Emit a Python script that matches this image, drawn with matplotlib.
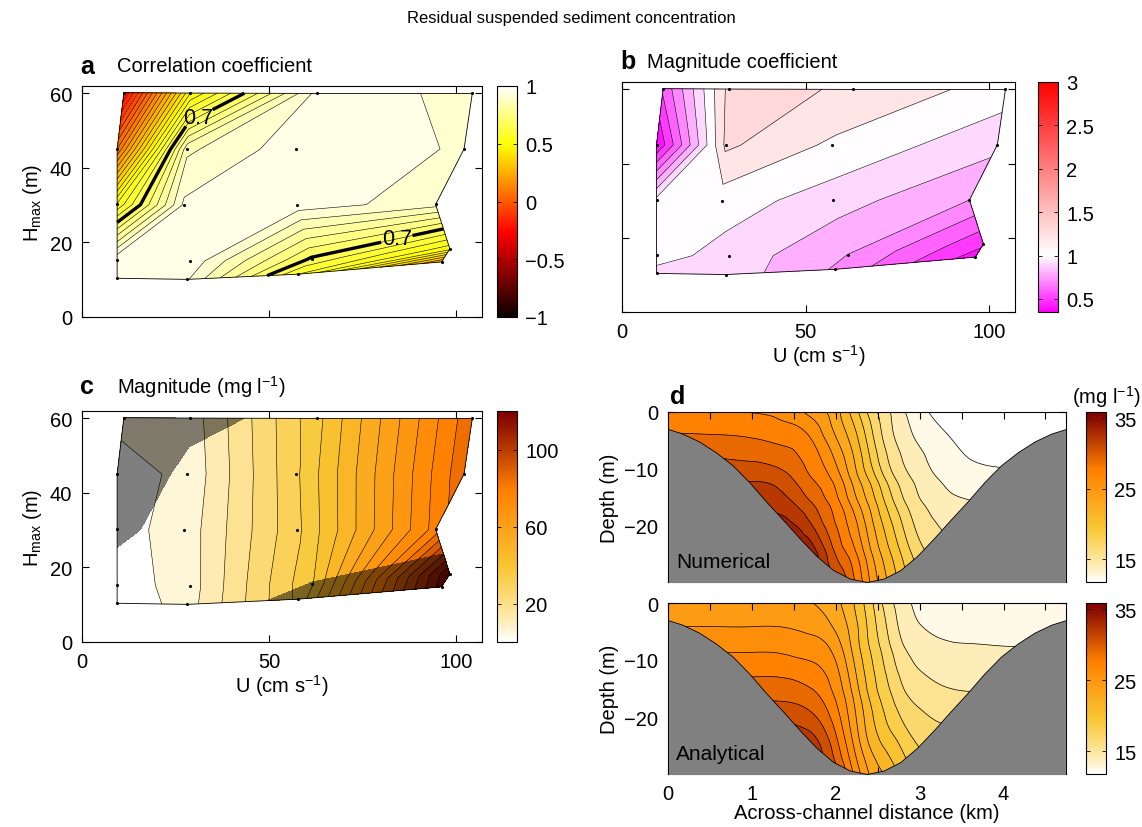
import numpy as np
import matplotlib
matplotlib.use('Agg')
import matplotlib.pyplot as plt
import matplotlib.tri as mtri
from matplotlib.colors import LinearSegmentedColormap, Normalize
from matplotlib.cm import ScalarMappable

plt.rcParams['font.family'] = ['Liberation Sans', 'DejaVu Sans']
plt.rcParams['mathtext.fontset'] = 'custom'
plt.rcParams['mathtext.rm'] = 'Liberation Sans'
plt.rcParams['mathtext.it'] = 'Liberation Sans:italic'

# ---- data: model runs (rows = depth class, cols = velocity class) ----
U_pts = np.array([[9.4, 28.2, 57.9, 96.2],
                  [9.4, 29.0, 61.4, 98.4],
                  [9.4, 27.2, 57.5, 94.6],
                  [9.4, 28.2, 57.3, 102.2],
                  [11.2, 29.0, 62.9, 104.4]])
H_pts = np.array([[10.4, 10.1, 11.5, 14.8],
                  [15.4, 15.0, 15.5, 18.3],
                  [30.2, 30.0, 30.1, 30.2],
                  [45.1, 45.0, 45.0, 45.1],
                  [60.2, 60.1, 60.0, 60.0]])
corr = np.array([[0.98, 0.955, 0.60, 0.25],
                 [0.99, 0.985, 0.69, 0.52],
                 [0.56, 0.96, 0.98, 0.92],
                 [0.10, 0.89, 0.98, 0.945],
                 [-0.20, 0.50, 0.97, 0.94]])
mag_coef = np.array([[0.97, 0.96, 0.79, 0.45],
                     [1.04, 0.96, 0.80, 0.52],
                     [1.03, 1.05, 0.95, 0.80],
                     [0.40, 1.22, 1.08, 0.93],
                     [0.62, 1.23, 1.19, 1.05]])
magnitude = np.array([[0.4, 9.2, 37.5, 117.0],
                      [2.4, 9.3, 41.0, 119.5],
                      [4.2, 8.0, 34.5, 80.3],
                      [3.8, 7.25, 34.9, 88.4],
                      [7.5, 8.76, 40.2, 88.5]])

# ---- data: channel cross-section ----
dist_km = [0, 0.6, 1.0, 1.4, 1.7, 2.0, 2.2, 2.4, 2.6, 2.8, 3.0, 3.3, 3.6, 4.0, 4.4, 4.75]
depth_m = [0, -4, -8, -12, -16, -20, -25, -30]
numerical = np.array([
    [27.8, 27.7, 27.45, 27.1, 25.5, 23.6, 21.0, 18.1, 16.0, 14.2, 13.0, 11.8, 11.3, 11.2, 11.2, 11.2],
    [29.1, 29.0, 28.8, 28.3, 27.3, 24.4, 22.2, 19.2, 16.4, 14.7, 13.6, 12.6, 11.8, 11.4, 11.3, 11.3],
    [30.45, 30.45, 30.2, 29.6, 28.3, 25.7, 23.2, 20.1, 17.2, 15.4, 14.3, 13.2, 12.45, 12.1, 11.8, 11.7],
    [31.95, 31.9, 31.9, 31.1, 29.2, 27.0, 24.2, 21.4, 18.45, 16.3, 15.0, 13.8, 13.3, 13.0, 12.7, 12.45],
    [33.1, 33.1, 33.1, 32.5, 30.6, 28.1, 25.5, 22.7, 19.8, 17.3, 15.7, 14.5, 14.1, 13.8, 13.5, 13.3],
    [34.0, 34.0, 34.0, 34.0, 32.2, 29.05, 26.8, 23.8, 21.0, 18.45, 16.5, 15.3, 14.8, 14.5, 14.2, 14.05],
    [34.4, 34.4, 34.4, 34.4, 34.3, 30.4, 28.2, 25.0, 22.2, 19.7, 17.6, 16.2, 15.45, 15.2, 15.0, 14.8],
    [34.6, 34.6, 34.6, 34.6, 34.6, 32.5, 29.5, 26.1, 23.2, 20.8, 18.55, 17.05, 16.0, 15.8, 15.6, 15.4]])
analytical = np.array([
    [24.8, 24.8, 24.8, 24.7, 24.55, 23.4, 21.7, 19.1, 16.4, 14.6, 13.6, 13.2, 13.0, 12.9, 12.9, 12.9],
    [25.95, 25.95, 25.95, 25.9, 25.5, 24.2, 22.3, 19.6, 17.05, 15.0, 14.05, 13.6, 13.4, 13.3, 13.3, 13.3],
    [27.3, 27.3, 27.3, 27.2, 26.8, 25.4, 22.8, 20.05, 17.7, 15.7, 14.8, 14.3, 14.2, 14.1, 14.1, 14.1],
    [28.7, 28.65, 28.65, 28.6, 28.1, 26.4, 23.6, 20.7, 18.4, 16.5, 15.55, 15.0, 14.9, 14.9, 14.9, 14.9],
    [30.1, 30.1, 30.1, 30.0, 29.4, 27.2, 24.45, 21.3, 19.1, 17.3, 16.4, 15.8, 15.6, 15.6, 15.6, 15.6],
    [31.6, 31.6, 31.6, 31.6, 30.9, 28.2, 25.2, 22.1, 19.9, 18.3, 17.3, 16.7, 16.4, 16.3, 16.3, 16.3],
    [33.2, 33.2, 33.2, 33.0, 32.8, 29.6, 26.2, 23.0, 21.2, 19.7, 18.4, 17.8, 17.3, 17.2, 17.2, 17.2],
    [33.4, 33.4, 33.4, 33.4, 33.4, 31.5, 27.7, 24.45, 22.8, 21.0, 19.5, 19.0, 18.0, 18.0, 18.0, 18.0]])
bed_x = [0.0, 0.17, 0.37, 0.57, 0.77, 0.97, 1.17, 1.37, 1.57, 1.77, 1.97, 2.17, 2.37,
         2.57, 2.77, 2.97, 3.17, 3.37, 3.57, 3.77, 3.97, 4.17, 4.37, 4.57, 4.745]
bed_z = [-3.0, -3.8, -5.2, -7.1, -9.4, -12.4, -15.8, -19.0, -22.3, -25.4, -27.9, -29.4, -30.0,
         -29.4, -27.9, -25.4, -22.3, -19.0, -15.8, -12.4, -9.4, -7.1, -5.2, -3.8, -3.0]

# ---- colour maps ----
hot = plt.get_cmap('hot')
norm_a = Normalize(-1, 1)
b_lo, b_hi = 0.35, 3.0
mag_cmap = LinearSegmentedColormap.from_list(
    'magcoef', [(0, (1, 0, 1)), ((1 - b_lo) / (b_hi - b_lo), (1, 1, 1)), (1, (1, 0, 0))])
norm_b = Normalize(b_lo, b_hi)
conc_cmap = LinearSegmentedColormap.from_list(
    'conc', [(0, (1, 1, 1)), (0.06, (1, 0.95, 0.8)), (0.16, (0.99, 0.88, 0.55)),
             (0.32, (0.97, 0.78, 0.2)), (0.66, (1, 0.5, 0)), (0.95, (0.55, 0.06, 0)),
             (1, (0.5, 0, 0))])
norm_c = Normalize(0, 120)
norm_d = Normalize(11.8, 35.85)

W, H = 1142, 828
fig = plt.figure(figsize=(W / 100, H / 100), dpi=100)


def px_axes(l, t, r, b):
    return fig.add_axes([l / W, 1 - b / H, (r - l) / W, (b - t) / H])


def style(ax):
    ax.tick_params(which='both', direction='in', top=True, right=True,
                   length=5, width=0.8, labelsize=14.5, pad=7)
    for s in ax.spines.values():
        s.set_linewidth(0.8)


def add_cbar(box, cmap, norm, ticks, labels):
    cax = px_axes(*box)
    cb = fig.colorbar(ScalarMappable(norm=norm, cmap=cmap), cax=cax, ticks=ticks)
    cb.set_ticklabels(labels)
    cb.outline.set_linewidth(0.8)
    cax.tick_params(direction='in', length=3, width=0.6, labelsize=14.5,
                    left=True, right=True, pad=6)
    return cb


def grid_panel(ax, Z, cmap, norm, levels, band_vals=None):
    if band_vals is None:
        band_vals = levels[:-1]
    cols = cmap(norm(np.clip(band_vals, norm.vmin, norm.vmax)))
    ax.contourf(U_pts, H_pts, Z, levels=levels, colors=cols)
    ax.contour(U_pts, H_pts, Z, levels=levels, colors='k', linewidths=0.4)
    bx = np.concatenate([U_pts[0, :], U_pts[1:, -1], U_pts[-1, -2::-1], U_pts[-2::-1, 0]])
    by = np.concatenate([H_pts[0, :], H_pts[1:, -1], H_pts[-1, -2::-1], H_pts[-2::-1, 0]])
    ax.plot(bx, by, color='k', lw=0.6)
    ax.plot(U_pts.ravel(), H_pts.ravel(), 'k.', ms=2.5)
    ax.set_xlim(0, 107)
    ax.set_ylim(0, 62)
    ax.set_xticks([0, 50, 100])
    ax.set_yticks([0, 20, 40, 60])
    style(ax)


# ---- a: correlation coefficient ----
ax_a = px_axes(82, 87, 482, 318)
lev_a = np.round(np.arange(-1, 1.0001, 0.05), 2)
grid_panel(ax_a, corr, hot, norm_a, lev_a)
cs = ax_a.contour(U_pts, H_pts, corr, levels=[0.7], colors='k', linewidths=2.4)
labels = ax_a.clabel(cs, fmt='%.1f', fontsize=15.5, inline=True, inline_spacing=1,
                     manual=[(32, 52), (84, 22)])
for t in labels:
    t.set_rotation(0)
ax_a.set_xticklabels([])
ax_a.set_ylabel(r'H$_{\rm max}$ (m)', fontsize=14.5)
add_cbar((497, 87, 517, 318), hot, norm_a, [-1, -0.5, 0, 0.5, 1],
         ['\u22121', '\u22120.5', '0', '0.5', '1'])

# ---- b: magnitude coefficient ----
ax_b = px_axes(622, 83, 1015, 313)
lev_b = np.round(np.arange(0.3, 3.05, 0.1), 2)
b_bands = np.where(lev_b[:-1] > 1.05, lev_b[1:], lev_b[:-1])
grid_panel(ax_b, mag_coef, mag_cmap, norm_b, lev_b, b_bands)
ax_b.set_yticklabels([])
ax_b.set_xlabel(r'U (cm s$^{-1}$)', fontsize=14.5, labelpad=1)
add_cbar((1038, 83, 1058, 313), mag_cmap, norm_b, [0.5, 1, 1.5, 2, 2.5, 3],
         ['0.5', '1', '1.5', '2', '2.5', '3'])

# ---- c: magnitude ----
ax_c = px_axes(82, 412, 482, 643)
lev_c = np.arange(0, 121, 6)
grid_panel(ax_c, magnitude, conc_cmap, norm_c, lev_c)
ax_c.contourf(U_pts, H_pts, corr, levels=[-1, 0.7], colors='k', alpha=0.5)
ax_c.set_xlabel(r'U (cm s$^{-1}$)', fontsize=14.5, labelpad=1)
ax_c.set_ylabel(r'H$_{\rm max}$ (m)', fontsize=14.5)
add_cbar((497, 412, 517, 643), conc_cmap, norm_c, [20, 60, 100], ['20', '60', '100'])

# ---- d: cross-sections ----
lev_d = np.arange(11, 37.1, 1.5)
fill_lev = np.concatenate([[-100], lev_d, [100]])
fill_cols = conc_cmap(norm_d(np.clip(fill_lev[:-1], norm_d.vmin, norm_d.vmax)))
xx, zz = np.meshgrid(dist_km, depth_m)
tri = mtri.Triangulation(xx.ravel(), zz.ravel())
refiner = mtri.UniformTriRefiner(tri)


def section(box, field, name):
    ax = px_axes(*box)
    interp = mtri.CubicTriInterpolator(tri, field.ravel(), kind='min_E')
    tri_f, f_f = refiner.refine_field(field.ravel(), triinterpolator=interp, subdiv=3)
    ax.tricontourf(tri_f, f_f, levels=fill_lev, colors=fill_cols)
    ax.tricontour(tri_f, f_f, levels=lev_d[1:-2], colors='k', linewidths=0.5)
    ax.fill_between(bed_x, bed_z, -31, facecolor='#808080', edgecolor='k', lw=0.6, zorder=3)
    ax.text(0.1, -27.3, name, fontsize=15, zorder=4)
    ax.set_xlim(0, 4.745)
    ax.set_ylim(-30, 0)
    ax.set_xticks([0, 1, 2, 3, 4])
    ax.set_xticks(np.arange(0.5, 4.6, 1), minor=True)
    ax.set_yticks([-20, -10, 0])
    ax.set_yticks([-25, -15, -5], minor=True)
    ax.set_ylabel('Depth (m)', fontsize=14.5)
    style(ax)
    add_cbar((1086, box[1], 1106, box[3]), conc_cmap, norm_d, [15, 25, 35], ['15', '25', '35'])
    return ax


ax_d1 = section((668, 413, 1066, 583), numerical, 'Numerical')
ax_d1.set_xticklabels([])
ax_d2 = section((668, 604, 1066, 775), analytical, 'Analytical')
ax_d2.set_xlabel('Across-channel distance (km)', fontsize=14.5, labelpad=0)

# ---- titles ----
fig.text(571 / W, 1 - 18 / H, 'Residual suspended sediment concentration',
         ha='center', va='center', fontsize=12)
for x, y, letter, label in [(80, 67, 'a', 'Correlation coefficient'),
                            (620, 62, 'b', 'Magnitude coefficient'),
                            (80, 387, 'c', r'Magnitude (mg l$^{-1}$)')]:
    fig.text(x / W, 1 - y / H, letter, fontsize=18, fontweight='bold', va='center')
    fig.text((x + 37 - (10 if letter == 'b' else 0)) / W, 1 - y / H, label,
             fontsize=14.5, va='center')
fig.text(670 / W, 1 - 397 / H, 'd', fontsize=18, fontweight='bold', va='center')
fig.text(1106 / W, 1 - 397 / H, r'(mg l$^{-1}$)', fontsize=14.5, va='center', ha='center')

fig.savefig('out.png', dpi=100)
